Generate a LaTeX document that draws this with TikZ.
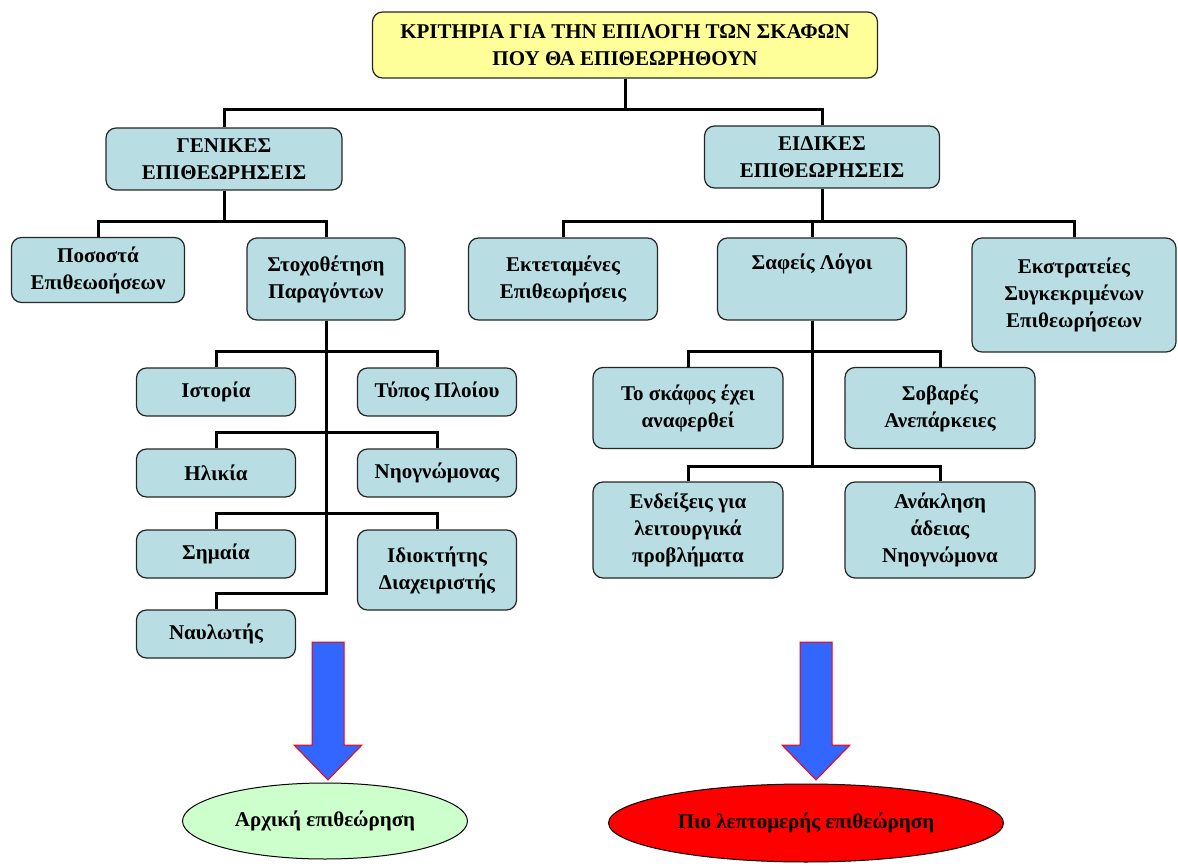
\documentclass[tikz,border=0pt]{standalone}
\usepackage{fontspec}
\setmainfont{Liberation Serif}
\usetikzlibrary{shapes.geometric}

\definecolor{boxblue}{RGB}{184,222,228}
\definecolor{headyellow}{RGB}{255,255,153}
\definecolor{startgreen}{RGB}{204,255,204}
\definecolor{arrowblue}{RGB}{51,102,255}

\begin{document}
\begin{tikzpicture}[x=1pt, y=-1pt,
  box/.style={draw=black!85, line width=1.2pt, rounded corners=10pt, fill=boxblue,
    align=center, inner sep=0pt, font=\bfseries\fontsize{21}{27}\selectfont},
  head/.style={box, fill=headyellow},
  leaf/.style={box, minimum width=159pt, minimum height=48pt},
  mid/.style={box, minimum width=189pt, minimum height=82pt},
  conn/.style={line width=3pt},
  bigarrow/.style={fill=arrowblue, draw=red, line width=1pt},
  goal/.style={ellipse, draw=black, line width=1pt, inner sep=0pt,
    font=\bfseries\fontsize{21}{27}\selectfont},
]
  \useasboundingbox (0,0) rectangle (1178,866);

  % top level
  \node[head, minimum width=505pt, minimum height=66pt] (crit) at (625,45)
    {ΚΡΙΤΗΡΙΑ ΓΙΑ ΤΗΝ ΕΠΙΛΟΓΗ ΤΩΝ ΣΚΑΦΩΝ\\ΠΟΥ ΘΑ ΕΠΙΘΕΩΡΗΘΟΥΝ};
  \node[box, minimum width=236pt, minimum height=62pt] (gen) at (224,159) {ΓΕΝΙΚΕΣ\\ΕΠΙΘΕΩΡΗΣΕΙΣ};
  \node[box, minimum width=235pt, minimum height=62pt] (eid) at (822,157) {ΕΙΔΙΚΕΣ\\ΕΠΙΘΕΩΡΗΣΕΙΣ};

  % second level
  \node[box, minimum width=173pt, minimum height=65pt] (pos) at (98,270) {Ποσοστά\\Επιθεωοήσεων};
  \node[box, minimum width=158pt, minimum height=82pt] (stoch) at (326,279) {Στοχοθέτηση\\Παραγόντων};
  \node[mid] (ekt) at (563,279) {Εκτεταμένες\\Επιθεωρήσεις};
  \node[mid] (saf) at (812,279) {Σαφείς Λόγοι\\\strut};
  \node[box, minimum width=204pt, minimum height=114pt] (ekst) at (1074,295)
    {Εκστρατείες\\Συγκεκριμένων\\Επιθεωρήσεων};

  % factors
  \node[leaf] (ist) at (216,392) {Ιστορία};
  \node[leaf] (typ) at (437,392) {Τύπος Πλοίου};
  \node[leaf] (ilik) at (216,473) {Ηλικία};
  \node[leaf] (niog) at (437,473) {Νηογνώμονας};
  \node[leaf] (sim) at (216,554) {Σημαία};
  \node[leaf, minimum height=80pt] (idio) at (437,570) {Ιδιοκτήτης\\Διαχειριστής};
  \node[leaf] (nayl) at (216,634) {Ναυλωτής};

  % clear reasons
  \node[box, minimum width=190pt, minimum height=81pt] (skaf) at (688,408) {Το σκάφος έχει\\αναφερθεί};
  \node[box, minimum width=190pt, minimum height=81pt] (sob) at (940,408) {Σοβαρές\\Ανεπάρκειες};
  \node[box, minimum width=190pt, minimum height=96pt] (endx) at (688,530)
    {Ενδείξεις για\\λειτουργικά\\προβλήματα};
  \node[box, minimum width=190pt, minimum height=96pt] (anak) at (940,530)
    {Ανάκληση\\άδειας\\Νηογνώμονα};

  % connectors
  \coordinate (jtop) at (625,110);
  \coordinate (jgen) at (224,222);
  \coordinate (jeid) at (822,222);
  \draw[conn] (crit.south) -- (jtop) -| (gen.north);
  \draw[conn] (jtop) -| (eid.north);
  \draw[conn] (gen.south) -- (jgen) -| (pos.north);
  \draw[conn] (jgen) -| (stoch.north);
  \draw[conn] (eid.south) -- (jeid) -| (ekt.north);
  \draw[conn] (jeid) -| (saf.north);
  \draw[conn] (jeid) -| (ekst.north);

  \coordinate (s1) at (326,352);
  \coordinate (s2) at (326,432);
  \coordinate (s3) at (326,513);
  \coordinate (s4) at (326,593);
  \draw[conn] (stoch.south) -- (s4) -| (nayl.north);
  \draw[conn] (ist.north) |- (s1) -| (typ.north);
  \draw[conn] (ilik.north) |- (s2) -| (niog.north);
  \draw[conn] (sim.north) |- (s3) -| (idio.north);

  \coordinate (r1) at (812,352);
  \coordinate (r2) at (812,466);
  \draw[conn] (saf.south) -- (r2);
  \draw[conn] (skaf.north) |- (r1) -| (sob.north);
  \draw[conn] (endx.north) |- (r2) -| (anak.north);

  % outcome
  \foreach \ax in {328,816}
    \draw[bigarrow] (\ax-16,642) -- (\ax+16,642) -- (\ax+16,745) -- (\ax+34,745)
      -- (\ax,780) -- (\ax-34,745) -- (\ax-16,745) -- cycle;
  \node[goal, fill=startgreen, minimum width=285pt, minimum height=76pt] (init) at (325,821)
    {Αρχική επιθεώρηση};
  \node[goal, fill=red, minimum width=395pt, minimum height=78pt] (deta) at (806,823)
    {Πιο λεπτομερής επιθεώρηση};
\end{tikzpicture}
\end{document}
